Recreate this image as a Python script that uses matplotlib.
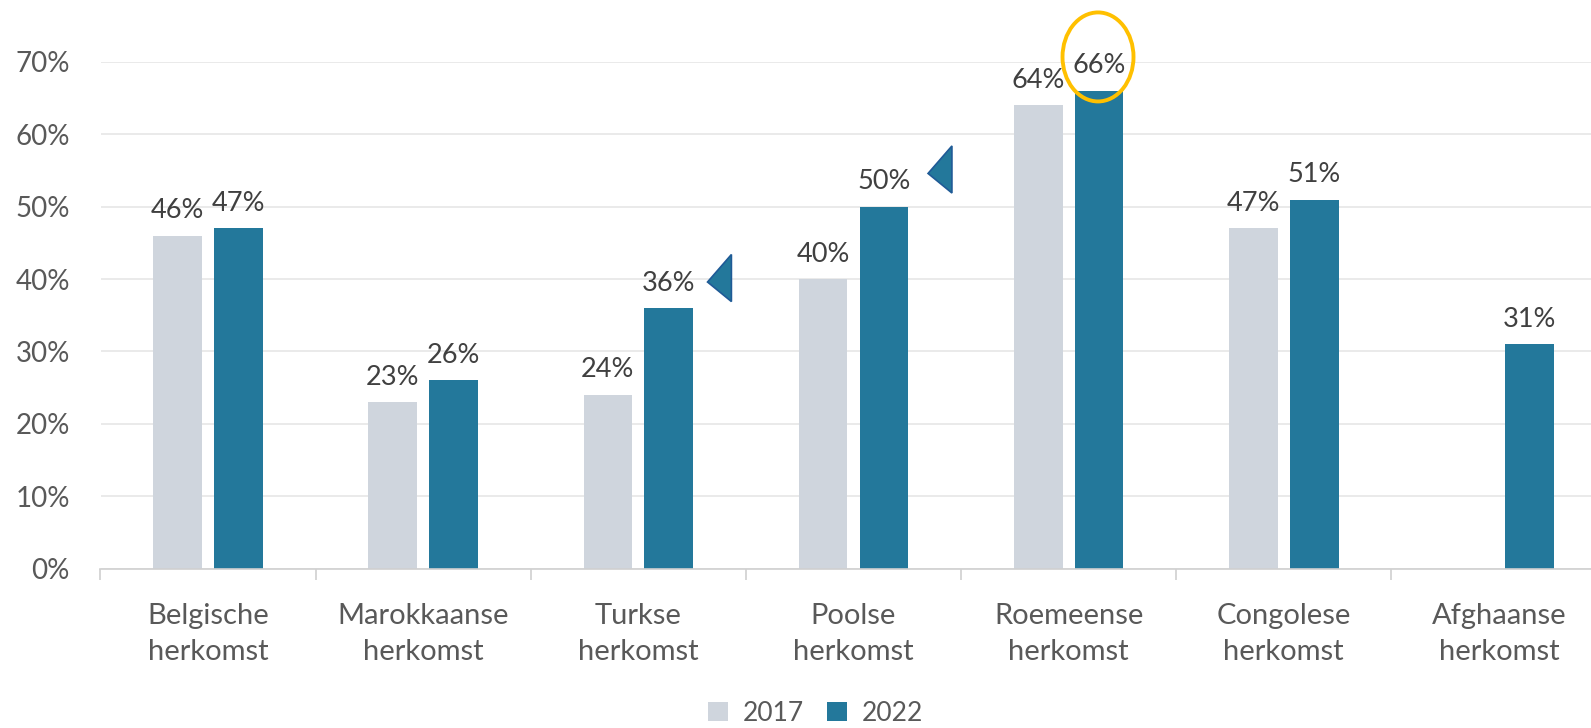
import numpy as np
import matplotlib.pyplot as plt
from matplotlib.patches import Ellipse, Polygon

plt.rcParams['font.family'] = ['Lato', 'DejaVu Sans']

# Data
categories = ["Belgische\nherkomst", "Marokkaanse\nherkomst", "Turkse\nherkomst",
              "Poolse\nherkomst", "Roemeense\nherkomst", "Congolese\nherkomst",
              "Afghaanse\nherkomst"]
years = ["2017", "2022"]
vals_2017 = [46, 23, 24, 40, 64, 47, np.nan]
vals_2022 = [47, 26, 36, 50, 66, 51, 31]

c_2017 = "#CFD5DD"
c_2022 = "#23789B"
txt = "#404040"
axc = "#595959"

fig = plt.figure(figsize=(15.91, 7.28), dpi=100)
# axis runs past the right edge, as in the (cropped) source
ax = fig.add_axes([100.5 / 1591, 159.4 / 728, 1506 / 1591, 506.6 / 728])

x = np.arange(len(categories))
w = 0.226
off = 0.1415
b1 = ax.bar(x - off, vals_2017, w, color=c_2017, label=years[0], zorder=2)
b2 = ax.bar(x + off, vals_2022, w, color=c_2022, label=years[1], zorder=2)

for bars, vals in ((b1, vals_2017), (b2, vals_2022)):
    for b, v in zip(bars, vals):
        if np.isnan(v):
            continue
        ax.annotate(f"{v:.0f}%", (b.get_x() + b.get_width() / 2, v),
                    xytext=(0, 9), textcoords="offset points",
                    ha="center", va="bottom", fontsize=19.5, color=txt)

# highlight around the Roemeense 2022 label
ax.add_patch(Ellipse((4 + off - 0.005, 70.7), 0.33, 12.3, fill=False,
                     edgecolor="#FFC000", linewidth=2.8, clip_on=False, zorder=5))

# arrow markers next to Turkse and Poolse 2022 labels (offsets from bar top)
for i, dx, dy in ((2, 0.18, 3.6), (3, 0.205, 4.6)):
    v = vals_2022[i]
    tip_x = i + off + dx
    tri = Polygon([(tip_x, v + dy), (tip_x + 0.111, v + dy + 3.8), (tip_x + 0.111, v + dy - 2.7)],
                  closed=True, facecolor=c_2022, edgecolor="#1F5A96",
                  linewidth=1.2, clip_on=False, zorder=5)
    ax.add_patch(tri)

ax.set_xlim(-0.5, len(categories) - 0.5)
ax.set_ylim(0, 70)
ax.set_yticks(np.arange(0, 71, 10))
ax.set_yticklabels([f"{t}%" for t in range(0, 71, 10)])
ax.set_xticks(x)
ax.set_xticklabels(categories, linespacing=1.45)
ax.set_xticks(np.arange(-0.5, len(categories), 1), minor=True)

ax.grid(axis="y", color="#E6E6E6", linewidth=1.2, zorder=0)
for s in ("top", "right", "left"):
    ax.spines[s].set_visible(False)
ax.spines["bottom"].set_color("#D0D0D0")
ax.spines["bottom"].set_linewidth(1.2)

ax.tick_params(axis="y", length=0, pad=22, labelsize=20, labelcolor=axc)
ax.tick_params(axis="x", which="major", length=0, pad=25, labelsize=21, labelcolor=axc)
ax.tick_params(axis="x", which="minor", length=8, color="#D0D0D0", width=1.2)

fig.legend(handles=[b1, b2], labels=years, loc="center", bbox_to_anchor=(0.5125, 0.02),
           ncol=2, frameon=False, fontsize=19, labelcolor=axc,
           handlelength=0.75, handleheight=0.75, handletextpad=0.55, columnspacing=0.9,
           borderpad=0.2)

fig.savefig("out.png", dpi=100)
